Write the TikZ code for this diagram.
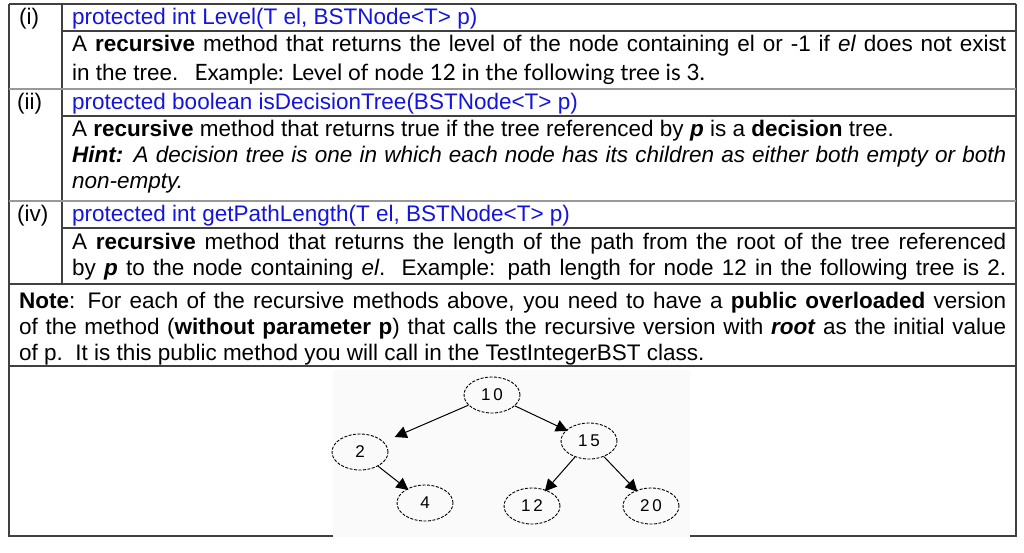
\documentclass[tikz,border=0pt]{standalone}
\usepackage{fontspec}
\setmainfont{Liberation Sans}
\newfontfamily\comicf{Lato}
\usetikzlibrary{arrows.meta,shapes.geometric}
\definecolor{hdrblue}{RGB}{20,20,220}
\begin{document}
\begin{tikzpicture}[x=1pt,y=-1pt,
  rule/.style={draw=black!75,line width=1.2pt},
  grule/.style={draw=black!40,line width=1.6pt},
  txt/.style={anchor=base west,inner sep=0pt,font=\fontsize{22.5}{26}\selectfont},
  hdr/.style={txt,text=hdrblue},
  tnode/.style={ellipse,draw,dashed,dash pattern=on 3pt off 1.5pt,line width=0.9pt,minimum width=56pt,minimum height=36pt,inner sep=0pt,font=\fontsize{17}{19}\selectfont},
  tedge/.style={-{Triangle[length=12pt,width=12pt]},line width=1pt}]
\useasboundingbox (0,0) rectangle (1024,553);
\fill[white] (0,0) rectangle (1024,553);
\fill[black!2] (333,370) rectangle (690,537);
\draw[rule] (9,4) -- (1016,4);
\draw[rule] (9,4) -- (9,537);
\draw[rule] (1016,4) -- (1016,537);
\draw[rule] (62,4) -- (62,284);
\draw[rule] (62,31) -- (1016,31);
\draw[grule] (9,89) -- (1016,89);
\draw[rule] (62,116) -- (1016,116);
\draw[grule] (9,201) -- (1016,201);
\draw[rule] (62,228) -- (1016,228);
\draw[rule] (9,284) -- (1016,284);
\draw[rule] (9,366) -- (1016,366);
\draw[rule] (9,536) -- (333,536);
\draw[rule] (690,536) -- (1016,536);
\node[txt] (l1) at (19,25) {(i)};
\node[txt] (l2) at (17,110) {(ii)};
\node[txt] (l3) at (17,222) {(iv)};
\node[hdr] (h1) at (72,25) {protected int Level(T el, BSTNode<T> p)};
\node[hdr] (h2) at (72,110) {protected boolean isDecisionTree(BSTNode<T> p)};
\node[hdr] (h3) at (72,222) {protected int getPathLength(T el, BSTNode<T> p)};
\node[txt] (a1) at (72,52) {\hbox to 934pt{A \textbf{recursive} method that returns the level of the node containing el or -1 if \textit{el} does not exist}};
\node[txt] (a2) at (72,81) {in the tree.\hspace{16pt}{\comicf Example: Level of node 12 in the following tree is 3.}};
\node[txt] (b1) at (72,137) {A \textbf{recursive} method that returns true if the tree referenced by \textbf{\textit{p}} is a \textbf{decision} tree.};
\node[txt] (b2) at (72,163) {\hbox to 934pt{\itshape\textbf{Hint:} A decision tree is one in which each node has its children as either both empty or both}};
\node[txt] (b3) at (72,189) {\itshape non-empty.};
\node[txt] (c1) at (72,249) {\hbox to 934pt{A \textbf{recursive} method that returns the length of the path from the root of the tree referenced}};
\node[txt] (c2) at (72,275) {\hbox to 934pt{by \textbf{\textit{p}} to the node containing \textit{el}.\ \ Example: path length for node 12 in the following tree is 2.}};
\node[txt] (n1) at (19,308) {\hbox to 987pt{\textbf{Note}: For each of the recursive methods above, you need to have a \textbf{public overloaded} version}};
\node[txt] (n2) at (19,334) {\hbox to 987pt{of the method (\textbf{without parameter p}) that calls the recursive version with \textbf{\textit{root}} as the initial value}};
\node[txt] (n3) at (19,360) {of p.\ \ It is this public method you will call in the TestIntegerBST class.};
\node[tnode] (t10) at (492,395) {1\,0};
\node[tnode] (t2) at (360,452) {2};
\node[tnode] (t15) at (589,441) {1\,5};
\node[tnode] (t4) at (425,503) {4};
\node[tnode] (t12) at (532,506) {1\,2};
\node[tnode] (t20) at (651,506) {2\,0};
\draw[tedge,shorten >=12pt] (t10) -- (t2);
\draw[tedge,shorten >=-2pt] (t10) -- (t15);
\draw[tedge,shorten >=-2pt] (t2) -- (t4);
\draw[tedge,shorten >=-2pt] (t15) -- (t12);
\draw[tedge,shorten >=-2pt] (t15) -- (t20);
\end{tikzpicture}
\end{document}
